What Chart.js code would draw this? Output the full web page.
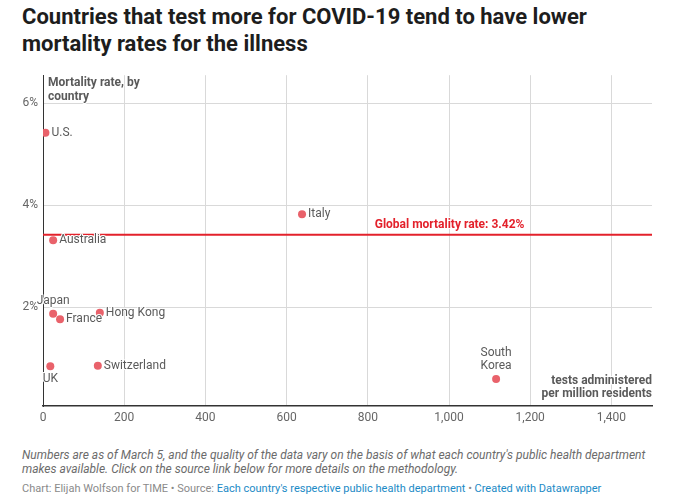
<!DOCTYPE html>
<html>
<head>
<meta charset="utf-8">
<script src="https://cdn.jsdelivr.net/npm/chart.js@4.4.1/dist/chart.umd.min.js"></script>
<style>
  body { margin: 0; background: #fff; font-family: Roboto, sans-serif; }
  #title { position: absolute; left: 22px; top: 3px; width: 640px; font-size: 22px; font-weight: 700; line-height: 27px; color: #1d1d1d; }
  #wrap { position: absolute; left: 0; top: 63px; width: 673px; height: 370px; }
  #notes { position: absolute; left: 22px; top: 448px; width: 645px; font-size: 12px; font-style: italic; line-height: 14px; color: #6b6b6b; }
  #source { position: absolute; left: 22px; top: 482px; font-size: 11px; color: #8a8a8a; }
  #source a { color: #1b8ac6; text-decoration: none; }
</style>
</head>
<body>
<div id="title">Countries that test more for COVID-19 tend to have lower mortality rates for the illness</div>
<div id="wrap"><canvas id="chart" width="673" height="370"></canvas></div>
<div id="notes">Numbers are as of March 5, and the quality of the data vary on the basis of what each country's public health department makes available. Click on the source link below for more details on the methodology.</div>
<div id="source">Chart: Elijah Wolfson for TIME • Source: <a href="#">Each country's respective public health department</a> • <a href="#">Created with Datawrapper</a></div>

<script>
// tests administered per million residents vs. mortality rate (%)
const countries = ['U.S.', 'Italy', 'Australia', 'Japan', 'France', 'Hong Kong', 'Switzerland', 'UK', 'South Korea'];
const testsPerMillion = [6, 638, 25, 25, 42, 140, 135, 18, 1116];
const mortality = [5.42, 3.82, 3.31, 1.87, 1.76, 1.89, 0.85, 0.84, 0.59];
const placement = ['right', 'right', 'right', 'above', 'right', 'right', 'right', 'below', 'above'];
const globalRate = 3.42;
const xTicks = [0, 200, 400, 600, 800, 1000, 1200, 1400];
const yTicks = [2, 4, 6];

const grey = '#5a5a5a';
const red = '#e3212b';

const labelsPlugin = {
  id: 'labels',
  afterDatasetsDraw(chart) {
    const { ctx, chartArea, scales: { x, y } } = chart;
    ctx.save();
    ctx.lineJoin = 'round';

    const halo = (text, tx, ty) => {
      ctx.lineWidth = 2;
      ctx.strokeStyle = '#fff';
      ctx.strokeText(text, tx, ty);
      ctx.fillText(text, tx, ty);
    };

    // country labels
    ctx.font = '12px Roboto';
    ctx.fillStyle = grey;
    ctx.textBaseline = 'middle';
    countries.forEach((name, i) => {
      const px = x.getPixelForValue(testsPerMillion[i]);
      const py = y.getPixelForValue(mortality[i]);
      const where = placement[i];
      if (where === 'right') {
        ctx.textAlign = 'left';
        halo(name, px + 6, py);
      } else if (where === 'above') {
        ctx.textAlign = 'center';
        const lines = name.split(' ');
        lines.forEach((l, j) => halo(l, px, py - 13 - (lines.length - 1 - j) * 13));
      } else {
        ctx.textAlign = 'center';
        halo(name, px, py + 13);
      }
    });

    // global line label
    ctx.font = 'bold 12px Roboto';
    ctx.fillStyle = red;
    ctx.textAlign = 'left';
    halo('Global mortality rate: ' + globalRate.toFixed(2) + '%', x.getPixelForValue(817), y.getPixelForValue(globalRate) - 10);

    // axis titles
    ctx.fillStyle = grey;
    halo('Mortality rate, by', chartArea.left + 5, chartArea.top + 8);
    halo('country', chartArea.left + 5, chartArea.top + 22);
    ctx.textAlign = 'right';
    halo('tests administered', chartArea.right, chartArea.bottom - 25);
    halo('per million residents', chartArea.right, chartArea.bottom - 12);
    ctx.restore();
  }
};

new Chart(document.getElementById('chart'), {
  type: 'scatter',
  data: {
    datasets: [
      {
        type: 'scatter',
        data: countries.map((c, i) => ({ x: testsPerMillion[i], y: mortality[i] })),
        backgroundColor: '#e9626b',
        borderWidth: 0,
        pointRadius: 4,
        pointHoverRadius: 4,
        order: 1
      },
      {
        type: 'line',
        data: [{ x: 0, y: globalRate }, { x: 1500, y: globalRate }],
        borderColor: red,
        borderWidth: 2,
        pointRadius: 0,
        order: 2
      }
    ]
  },
  options: {
    responsive: false,
    animation: false,
    layout: { padding: { top: 11, right: 21, left: 0, bottom: 0 } },
    plugins: { legend: { display: false }, tooltip: { enabled: false } },
    scales: {
      x: {
        type: 'linear',
        min: 0,
        max: 1500,
        afterBuildTicks: s => { s.ticks = xTicks.map(v => ({ value: v })); },
        afterFit: s => { s.height = 27; },
        grid: { color: '#d9d9d9', drawTicks: false },
        border: { color: '#333', width: 1.5 },
        ticks: {
          padding: 5,
          color: '#666',
          font: { family: 'Roboto', size: 12 },
          callback: v => v.toLocaleString('en-US')
        }
      },
      y: {
        min: 0.06,
        max: 6.55,
        afterBuildTicks: s => { s.ticks = yTicks.map(v => ({ value: v })); },
        afterFit: s => { s.width = 43; },
        grid: { color: '#d9d9d9', drawTicks: false },
        border: { color: '#333', width: 1 },
        ticks: {
          padding: 5,
          color: '#666',
          font: { family: 'Roboto', size: 12 },
          callback: v => v + '%'
        }
      }
    }
  },
  plugins: [labelsPlugin]
});
</script>
</body>
</html>
